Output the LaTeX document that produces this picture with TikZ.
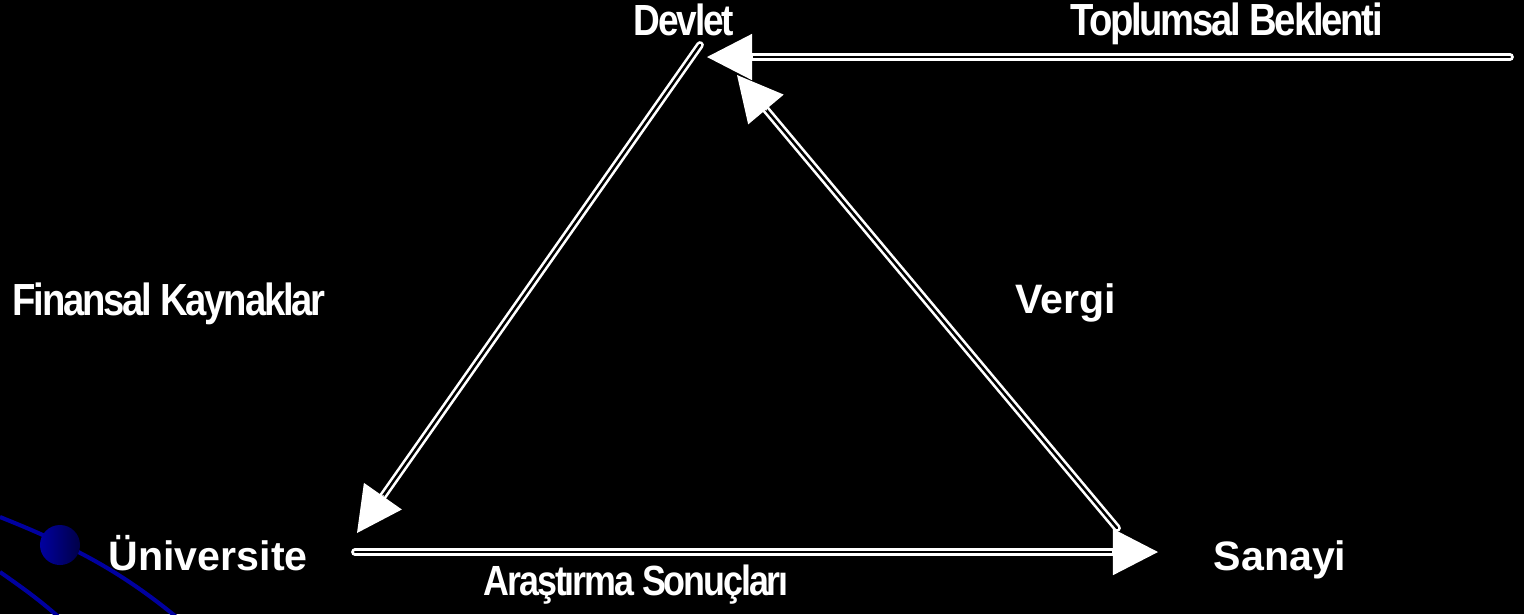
\documentclass[tikz,border=0pt]{standalone}
\usepackage{fontspec}
\setmainfont{Liberation Sans}
\newfontfamily\condfont{Liberation Sans}[FakeStretch=0.85,LetterSpace=-5]
\usetikzlibrary{arrows.meta,calc}
\definecolor{slideblue}{RGB}{0,0,160}
\definecolor{slidenavy}{RGB}{0,0,70}
\tikzset{
  lab/.style={text=white, inner sep=0pt, anchor=base west, font=\bfseries\fontsize{11.7}{14}\selectfont},
  condlab/.style={lab, font=\condfont\bfseries\fontsize{#1}{15}\selectfont},
  condlab/.default=12.8,
  dline/.style={draw=white, double=black, double distance=0.7pt, line width=0.75pt, line cap=round, shorten >=4mm},
  headtip/.style={white, -{Triangle[length=4.5mm, width=4.6mm]}},
  deco/.style={slideblue, line width=1.15pt},
}
\begin{document}
\begin{tikzpicture}[x=0.01cm, y=-0.01cm]
  \useasboundingbox (0,0) rectangle (1524,614);
  \fill[black] (0,0) rectangle (1524,614);
  \begin{scope}
    \clip (0,0) rectangle (1524,614);
    % blue slide decoration
    \draw[deco] (0,517) .. controls (70,545) and (120,570) .. (180,620);
    \draw[deco] (0,572) .. controls (20,586) and (40,600) .. (62,620);
    \shade[left color=slideblue, right color=slidenavy] (60,545) circle (2mm);
  \end{scope}
  % labels
  \node[condlab=12.4] (dev) at (633,35) {Devlet};
  \node[condlab] (top) at (1070,35) {Toplumsal Beklenti};
  \node[condlab] (fin) at (12,315) {Finansal Kaynaklar};
  \node[lab] (ver) at (1015,313) {Vergi};
  \node[lab] (uni) at (108,570) {Üniversite};
  \node[lab] (san) at (1213,570) {Sanayi};
  \node[condlab=12] (ara) at (483,595) {Araştırma Sonuçları};
  % arrow ends
  \coordinate (topR) at (1510,57);
  \coordinate (devE) at (707,57);
  \coordinate (devS) at (700,45);
  \coordinate (uniN) at (357,533);
  \coordinate (sanN) at (1117,528);
  \coordinate (devSE) at (737,75);
  \coordinate (uniE) at (355,552);
  \coordinate (sanW) at (1158,552);
  \draw[dline] (topR) -- (devE);
  \draw[dline] (devS) -- (uniN);
  \draw[dline] (sanN) -- (devSE);
  \draw[dline] (uniE) -- (sanW);
  \draw[headtip] ($(devE)!4.6mm!(topR)$) -- (devE);
  \draw[headtip] ($(uniN)!4.6mm!(devS)$) -- (uniN);
  \draw[headtip] ($(devSE)!4.6mm!(sanN)$) -- (devSE);
  \draw[headtip] ($(sanW)!4.6mm!(uniE)$) -- (sanW);
\end{tikzpicture}
\end{document}
